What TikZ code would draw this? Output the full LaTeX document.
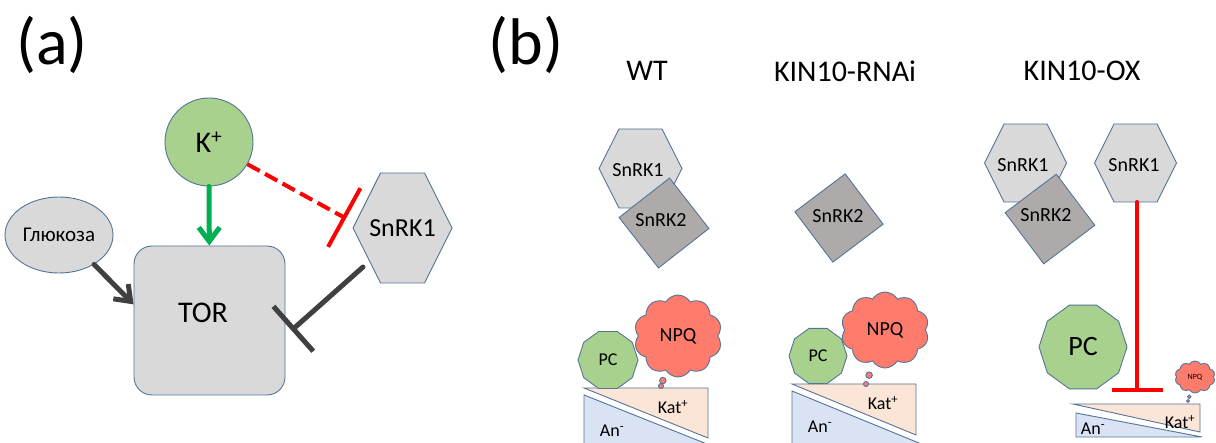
\documentclass[tikz,border=0pt]{standalone}
\usepackage{fontspec}
\setmainfont{Carlito}
\usepackage{tikz}
\usetikzlibrary{arrows.meta,shapes.geometric,shapes.symbols,shapes.callouts,calc}
\usepackage{xcolor}
\definecolor{edgeblue}{RGB}{84,116,152}
\definecolor{boxgray}{RGB}{217,217,217}
\definecolor{stonegray}{RGB}{174,170,170}
\definecolor{leafgreen}{RGB}{169,209,142}
\definecolor{arrowgreen}{RGB}{0,176,80}
\definecolor{npqred}{RGB}{255,124,108}
\definecolor{katpeach}{RGB}{251,229,214}
\definecolor{anblue}{RGB}{218,227,243}
\definecolor{linegray}{RGB}{64,64,64}
% hexagon round a centre: half width, half height, half top edge
\newcommand{\hexcell}[4]{%
  \draw[hexline] ($(#1)+(-#2,0)$) -- ($(#1)+(-#4,-#3)$) -- ($(#1)+(#4,-#3)$)
    -- ($(#1)+(#2,0)$) -- ($(#1)+(#4,#3)$) -- ($(#1)+(-#4,#3)$) -- cycle;}
\newcommand{\fs}[1]{\fontsize{#1}{#1}\selectfont}

\begin{document}
\begin{tikzpicture}[x=1pt,y=-1pt,line cap=round,
  outl/.style={draw=edgeblue,line width=0.9pt},
  hexline/.style={outl,fill=boxgray},
  cell/.style={font=\fs{20},inner sep=0pt},
  ttl/.style={font=\fs{30}},
  sqcell/.style={outl,fill=stonegray,rectangle,minimum size=64,inner sep=0pt},
  pcell/.style={outl,fill=leafgreen,regular polygon,regular polygon sides=10,inner sep=0pt},
  npqcell/.style={outl,fill=npqred,cloud callout,cloud puffs=10,cloud puff arc=120,aspect=1,inner sep=0pt,
    callout pointer segments=2},
  ion/.style={font=\fs{18},inner sep=0pt},
  act/.style={line width=5pt,-{Straight Barb[length=14pt,width=21pt]}},
  inhib/.style={-{Bar[width=#1]}}]
\useasboundingbox (0,0) rectangle (1216,443);
\fill[white] (0,0) rectangle (1216,443);

% (a)
\node[font=\fs{66}] (la) at (52,45) {(a)};
\node[outl,circle,fill=leafgreen,minimum size=88,inner sep=0pt,font=\fs{30}] (kp) at (209,142) {K\textsuperscript{+}};
\node[outl,ellipse,fill=boxgray,minimum width=108,minimum height=76,inner sep=0pt,font=\fs{21}] (glc) at (59,235) {Глюкоза};
\node[outl,fill=boxgray,rounded corners=18pt,minimum width=151,minimum height=149] (tor) at (209.5,320.5) {};
\node[font=\fs{30}] (tortext) at (203,313) {TOR};
\coordinate (s1a) at (402.5,228);
\hexcell{s1a}{49.5}{55}{22}
\node[font=\fs{26}] (s1atext) at (s1a) {SnRK1};
\draw[act,arrowgreen] (kp) -- (tor);
\draw[act,linegray] (glc.-40) -- (tor.168);
\coordinate (kpbar) at (346,218.5);
\draw[red,line width=4pt,line cap=butt,dash pattern=on 14pt off 6pt,inhib=67pt] (kp.-30) -- (kpbar);
\coordinate (s1tail) at (363,267);
\coordinate (torbar) at (291.5,330.5);
\draw[linegray,line width=5pt,inhib=60pt] (s1tail) -- (torbar);

% (b)
\node[font=\fs{66}] (lb) at (526,45) {(b)};
\node[ttl] (twt) at (647,71) {WT};
\node[ttl] (trnai) at (845,71) {KIN10-RNAi};
\node[ttl] (tox) at (1082,71) {KIN10-OX};

% kinases
\coordinate (s1wt) at (640.5,168.5);
\hexcell{s1wt}{41.5}{39.5}{21.5}
\node[cell] (s1wttext) at (638,170) {SnRK1};
\node[sqcell,rotate=38] (s2wt) at (664,223) {};
\node[cell] (s2wttext) at (661,220) {SnRK2};

\node[sqcell,rotate=37,minimum size=63] (s2rnai) at (839,218) {};
\node[cell] (s2rnaitext) at (838,216) {SnRK2};

\coordinate (s1ox) at (1025.5,163);
\hexcell{s1ox}{41}{39}{21.5}
\node[cell] (s1oxtext) at (1023,165) {SnRK1};
\node[sqcell,rotate=37] (s2ox) at (1050,219) {};
\node[cell] (s2oxtext) at (1046,215) {SnRK2};
\coordinate (s1oxb) at (1135.5,163);
\hexcell{s1oxb}{41}{39}{21.5}
\node[cell] (s1oxbtext) at (1134,165) {SnRK1};
\coordinate (oxstem) at (1137,202);
\coordinate (oxbar) at (1137,392);
\draw[red,line width=4pt,inhib=51pt] (oxstem) -- (oxbar);

% gradients
\begin{scope}
\clip (0,0) rectangle (1216,443);
\filldraw[outl,fill=katpeach] (584,388) -- (708,388) -- (708,438) -- cycle;
\filldraw[outl,fill=anblue] (584,395) -- (722,450) -- (584,450) -- cycle;
\filldraw[outl,fill=katpeach] (792,384) -- (916,384) -- (916,435) -- cycle;
\filldraw[outl,fill=anblue] (792,391) -- (936,450) -- (792,450) -- cycle;
\filldraw[outl,fill=katpeach] (1073,404) -- (1200,404) -- (1200,432) -- cycle;
\filldraw[outl,fill=anblue] (1076,413) -- (1202,437) -- (1076,437) -- cycle;
\end{scope}
\node[ion] (katwt) at (673,407) {Kat\textsuperscript{+}};
\node[ion] (anwt) at (612,431) {An\textsuperscript{-}};
\node[ion] (katrnai) at (883,403) {Kat\textsuperscript{+}};
\node[ion] (anrnai) at (820,427) {An\textsuperscript{-}};
\node[ion] (katox) at (1180,422) {Kat\textsuperscript{+}};
\node[ion] (anox) at (1093,429) {An\textsuperscript{-}};

% PC and NPQ
\node[pcell,minimum size=60,font=\fs{18}] (pcwt) at (608,360) {PC};
\node[npqcell,minimum width=88,minimum height=82,font=\fs{20},
  callout pointer start size=9pt and 8pt,callout pointer end size=5pt and 5pt,
  callout absolute pointer={(661,386)}] (npqwt) at (678,336) {NPQ};
\node[pcell,minimum size=58,font=\fs{18}] (pcrnai) at (818,356) {PC};
\node[npqcell,minimum width=88,minimum height=76,font=\fs{20},
  callout pointer start size=9pt and 8pt,callout pointer end size=5pt and 5pt,
  callout absolute pointer={(866,384)}] (npqrnai) at (885,330) {NPQ};
\node[pcell,minimum size=88,font=\fs{28}] (pcox) at (1083,347) {PC};
\node[npqcell,minimum width=40,minimum height=32,font=\fs{8},
  callout pointer start size=5pt and 4pt,callout pointer end size=3pt and 3pt,
  callout absolute pointer={(1188,401)}] (npqox) at (1195,377) {NPQ};
\end{tikzpicture}
\end{document}
